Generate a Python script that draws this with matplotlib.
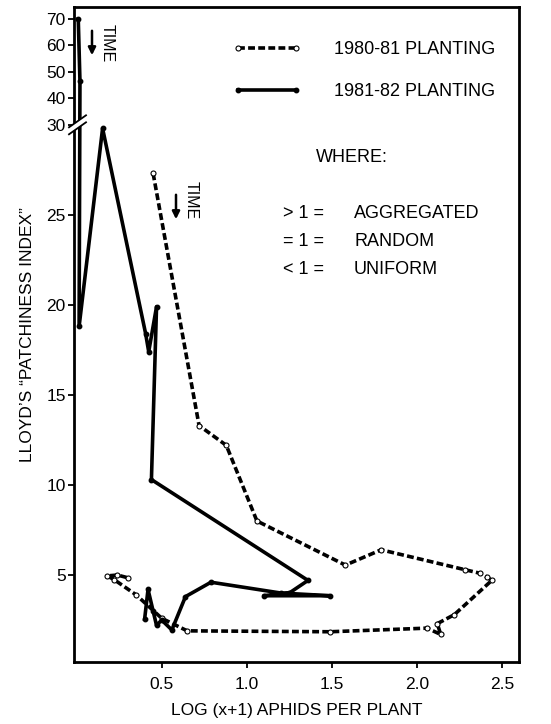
import numpy as np
import matplotlib
matplotlib.use("Agg")
import matplotlib.pyplot as plt
from matplotlib.lines import Line2D
from matplotlib.patches import Polygon

plt.rcParams['font.family'] = ['Liberation Sans', 'DejaVu Sans']

# ---- data ----
x_8081 = [0.45, 0.72, 0.88, 1.06, 1.58, 1.79, 2.28, 2.37, 2.41, 2.44, 2.22, 2.12,
          2.14, 2.06, 1.49, 0.65, 0.50, 0.35, 0.22, 0.18, 0.24, 0.30]
y_8081 = [27.3, 13.3, 12.2, 8.0, 5.55, 6.4, 5.3, 5.1, 4.9, 4.7, 2.8, 2.3,
          1.7, 2.05, 1.85, 1.9, 2.6, 3.9, 4.75, 4.95, 5.0, 4.85]

x_8182 = [0.01, 0.02, 0.015, 0.153, 0.406, 0.424, 0.47, 0.44, 1.36, 1.25, 1.10,
          1.49, 1.20, 0.79, 0.64, 0.56, 0.50, 0.47, 0.45, 0.42, 0.40]
y_8182 = [70, 46.5, 18.8, 29.8, 18.4, 17.4, 19.9, 10.3, 4.7, 4.0, 3.85,
          3.85, 4.0, 4.6, 3.8, 1.95, 2.5, 2.2, 3.0, 4.2, 2.55]

label_8081 = "1980-81 PLANTING"
label_8182 = "1981-82 PLANTING"
yticks = [5, 10, 15, 20, 25, 30, 40, 50, 60, 70]
xticks = [0.5, 1.0, 1.5, 2.0, 2.5]
xtick_labels = ["0.5", "1.0", "1.5", "2.0", "2.5"]
key_rows = [(">", "AGGREGATED"), ("=", "RANDOM"), ("<", "UNIFORM")]

# ---- broken (compressed above 30) y scale ----
BREAK = 30.0
K = 0.147

def fwd(y):
    y = np.asarray(y, dtype=float)
    return np.where(y <= BREAK, y, BREAK + (y - BREAK) * K)

def inv(y):
    y = np.asarray(y, dtype=float)
    return np.where(y <= BREAK, y, BREAK + (y - BREAK) / K)

W, H = 551, 724
fig = plt.figure(figsize=(W / 100, H / 100), dpi=100)
L, R, B, T = 74, 519, 662, 7
ax = fig.add_axes([L / W, 1 - B / H, (R - L) / W, (B - T) / H])
ax.set_yscale('function', functions=(fwd, inv))

ax.plot(x_8081, y_8081, color='black', lw=2.6, ls=(0, (1.9, 0.9)),
        marker='o', ms=3.6, mfc='white', mec='black', mew=0.8,
        label=label_8081, zorder=3)
ax.plot(x_8182, y_8182, color='black', lw=2.6, ls='-',
        marker='o', ms=3.2, mfc='black', mec='black',
        label=label_8182, zorder=3)

ax.set_xlim(-0.015, 2.6)
ax.set_ylim(0.17, 74.5)
ax.set_yticks(yticks)
ax.set_yticklabels([str(v) for v in yticks])
ax.minorticks_off()
ax.set_xticks(xticks)
ax.set_xticklabels(xtick_labels)
ax.tick_params(axis='both', direction='out', length=4, width=1.3,
               labelsize=12.5, colors='black')
ax.tick_params(axis='x', pad=7)
ax.tick_params(axis='y', pad=2)
for s in ax.spines.values():
    s.set_linewidth(2.0)

ax.set_xlabel("LOG (x+1) APHIDS PER PLANT", fontsize=12.5, labelpad=8)
ax.set_ylabel("LLOYD\u2019S \u201cPATCHINESS INDEX\u201d", fontsize=12.5, labelpad=8)

def afr(px, py):
    return ((px - L) / (R - L), (B - py) / (B - T))

FS = 13
# legend
leg = ax.legend(loc='upper left', bbox_to_anchor=afr(233, 41), frameon=False,
                fontsize=FS, handlelength=3.8, handletextpad=1.8,
                labelspacing=1.4, borderpad=0, borderaxespad=0, numpoints=2)

# key text
ax.text(*afr(352, 158), "WHERE:", transform=ax.transAxes, ha='center',
        va='center', fontsize=FS)
for i, (sym, word) in enumerate(key_rows):
    yy = 213 + i * 28
    ax.text(*afr(283, yy), sym + " 1 =", transform=ax.transAxes, ha='left',
            va='center', fontsize=FS)
    ax.text(*afr(354, yy), word, transform=ax.transAxes, ha='left',
            va='center', fontsize=FS)

# TIME labels and arrows
ax.text(*afr(107, 43), "TIME", transform=ax.transAxes, rotation=-90,
        ha='center', va='center', fontsize=11.5)
ax.annotate('', xy=afr(92, 58), xytext=afr(92, 28), xycoords='axes fraction',
            textcoords='axes fraction',
            arrowprops=dict(arrowstyle='-|>', lw=1.8, color='black',
                            mutation_scale=11))
ax.text(*afr(191, 200), "TIME", transform=ax.transAxes, rotation=-90,
        ha='center', va='center', fontsize=11.5)
ax.annotate('', xy=afr(176, 222), xytext=afr(176, 192), xycoords='axes fraction',
            textcoords='axes fraction',
            arrowprops=dict(arrowstyle='-|>', lw=1.8, color='black',
                            mutation_scale=11))

# axis break marks at y = 30
fig.canvas.draw()
_, yb = ax.transAxes.inverted().transform(ax.transData.transform((0, BREAK)))
dx = 1 / (R - L)
dy = 1 / (B - T)
x0, x1 = -5 * dx, 12 * dx
gap = 3.5 * dy
slope = 6 * dy
poly = Polygon([(x0, yb - gap - slope), (x1, yb - gap + slope),
                (x1, yb + gap + slope), (x0, yb + gap - slope)],
               closed=True, transform=ax.transAxes, facecolor='white',
               edgecolor='none', clip_on=False, zorder=5)
ax.add_patch(poly)
for off in (-gap, gap):
    ax.add_line(Line2D([x0, x1], [yb + off - slope, yb + off + slope],
                       transform=ax.transAxes, color='black', lw=1.3,
                       clip_on=False, zorder=6))

fig.savefig("out.png", dpi=100)
